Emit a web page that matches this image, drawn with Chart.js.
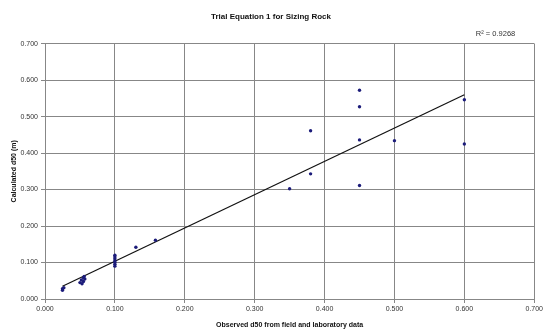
<!DOCTYPE html>
<html>
<head>
<meta charset="utf-8">
<script src="https://cdn.jsdelivr.net/npm/chart.js@4/dist/chart.umd.min.js"></script>
<style>
  html, body { margin: 0; padding: 0; background: #fff; }
  #wrap { width: 545px; height: 329px; }
</style>
</head>
<body>
<div id="wrap"><canvas id="chart"></canvas></div>
<script>
// Observed vs calculated d50 (m)
const observedD50 = [
    0.025, 0.025, 0.027,
    0.050, 0.052, 0.053, 0.055, 0.055, 0.056, 0.057,
    0.100, 0.100, 0.100, 0.100, 0.100, 0.100, 0.100,
    0.130, 0.158,
    0.350, 0.380, 0.380,
    0.450, 0.450, 0.450, 0.450, 0.500, 0.600, 0.600
];
const calculatedD50 = [
    0.024, 0.028, 0.031,
    0.045, 0.052, 0.042, 0.048, 0.058, 0.062, 0.055,
    0.090, 0.095, 0.100, 0.105, 0.110, 0.115, 0.120,
    0.142, 0.161,
    0.302, 0.343, 0.461,
    0.311, 0.436, 0.527, 0.572, 0.434, 0.425, 0.546
];

// Linear trendline end points (as drawn in the picture)
const trendX = [0.025, 0.600];
const trendY = [0.035, 0.560];
const rSquaredLabel = 'R\u00B2 = 0.9268';

const axisTicks = ['0.000', '0.100', '0.200', '0.300', '0.400', '0.500', '0.600', '0.700'];

const font = "'Liberation Sans', Arial, sans-serif";
const gridGray = '#878787';

// writes the R² label near the top right of the plot
const rSquaredPlugin = {
    id: 'rSquared',
    afterDraw(chart) {
        const ctx = chart.ctx;
        ctx.save();
        ctx.font = '7.5px ' + font;
        ctx.fillStyle = '#333';
        ctx.textAlign = 'right';
        ctx.textBaseline = 'middle';
        ctx.fillText(rSquaredLabel, chart.chartArea.right - 19, chart.chartArea.top - 10);
        ctx.restore();
    }
};

new Chart(document.getElementById('chart'), {
    type: 'scatter',
    data: {
        datasets: [
            {
                label: 'Data',
                data: observedD50.map((x, i) => ({ x: x, y: calculatedD50[i] })),
                backgroundColor: '#1c1c7a',
                borderColor: '#1c1c7a',
                pointRadius: 1.7,
                pointBorderWidth: 0,
            },
            {
                label: 'Linear',
                type: 'line',
                data: trendX.map((x, i) => ({ x: x, y: trendY[i] })),
                borderColor: '#111',
                borderWidth: 1.2,
                pointRadius: 0,
                fill: false,
            }
        ]
    },
    options: {
        responsive: true,
        maintainAspectRatio: false,
        animation: false,
        layout: { padding: { top: 0, right: 3, bottom: 0, left: 0 } },
        plugins: {
            legend: { display: false },
            tooltip: { enabled: false },
            title: {
                display: true,
                text: 'Trial Equation 1 for Sizing Rock',
                color: '#111',
                font: { family: font, size: 8, weight: 'bold' },
                padding: { top: 12, bottom: 22 },
            },
        },
        scales: {
            x: {
                type: 'linear',
                min: 0,
                max: 0.7,
                ticks: {
                    stepSize: 0.1,
                    color: '#333',
                    font: { family: font, size: 7 },
                    padding: 2,
                    maxRotation: 0,
                    callback: (v, i) => axisTicks[i],
                },
                grid: { color: gridGray, lineWidth: 1, tickLength: 4 },
                border: { color: gridGray },
                title: {
                    display: true,
                    text: 'Observed d50 from field and laboratory data',
                    color: '#111',
                    font: { family: font, size: 7, weight: 'bold' },
                    padding: { top: 3, bottom: 0 },
                },
                afterFit(scale) { scale.height = 30; },
            },
            y: {
                min: 0,
                max: 0.7,
                ticks: {
                    stepSize: 0.1,
                    color: '#333',
                    font: { family: font, size: 7 },
                    padding: 3,
                    callback: (v, i) => axisTicks[i],
                },
                grid: { color: gridGray, lineWidth: 1, tickLength: 4 },
                border: { color: gridGray },
                title: {
                    display: true,
                    text: 'Calculated d50 (m)',
                    color: '#111',
                    font: { family: font, size: 7, weight: 'bold' },
                    padding: { top: 10, bottom: 0 },
                },
                afterFit(scale) { scale.width = 45; },
            },
        },
    },
    plugins: [rSquaredPlugin]
});
</script>
</body>
</html>
